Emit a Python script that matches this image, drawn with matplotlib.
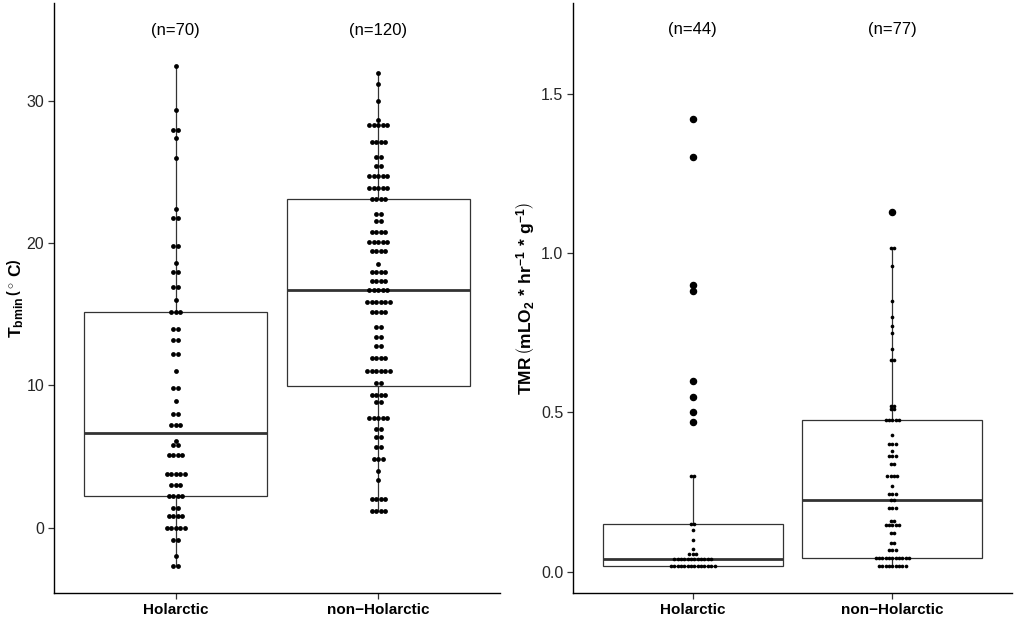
import numpy as np
import matplotlib
matplotlib.use("Agg")
import matplotlib.pyplot as plt

plt.rcParams['font.family'] = ['Liberation Sans', 'DejaVu Sans']
plt.rcParams['mathtext.fontset'] = 'custom'
plt.rcParams['mathtext.rm'] = 'Liberation Sans:bold'
plt.rcParams['mathtext.bf'] = 'Liberation Sans:bold'
plt.rcParams['mathtext.it'] = 'Liberation Sans:bold'
plt.rcParams['mathtext.default'] = 'bf'

# ---------------- data (dot rows: level, count) ----------------
categories = ["Holarctic", "non\u2212Holarctic"]

tb_hol_levels = [32.5, 29.4, 28.0, 27.4, 26.0, 22.4, 21.8, 19.8, 18.6, 18.0, 16.9, 16.0, 15.2,
                 14.0, 13.2, 12.2, 11.0, 9.8, 8.9, 8.0, 7.2, 6.1, 5.8, 5.1, 3.8, 3.0, 2.2,
                 1.4, 0.8, 0.0, -0.85, -2.0, -2.7]
tb_hol_counts = [1, 1, 2, 1, 1, 1, 2, 2, 1, 2, 2, 1, 3,
                 2, 2, 2, 1, 2, 1, 2, 3, 1, 2, 4, 5, 3, 4,
                 2, 4, 5, 2, 1, 2]

tb_non_levels = [32.0, 31.2, 30.0, 28.65, 28.3, 27.15, 26.1, 25.4, 24.75, 23.9, 23.1, 22.05,
                 21.6, 20.8, 20.1, 19.45, 18.55, 18.0, 17.35, 16.7, 15.85, 15.2, 14.1, 13.4,
                 12.75, 11.95, 11.0, 10.2, 9.3, 8.8, 7.7, 6.95, 6.35, 5.65, 4.85, 3.95, 3.35,
                 2.0, 1.2]
tb_non_counts = [1, 1, 1, 1, 5, 4, 2, 2, 5, 5, 4, 2,
                 2, 4, 5, 4, 1, 4, 4, 5, 6, 4, 2, 2,
                 2, 4, 6, 2, 4, 2, 5, 2, 2, 2, 3, 1, 1,
                 4, 4]

tmr_hol_levels = [1.42, 1.30, 0.90, 0.88, 0.60, 0.55, 0.50, 0.47, 0.30, 0.15, 0.13, 0.10,
                  0.071, 0.056, 0.040, 0.019]
tmr_hol_counts = [1, 1, 1, 1, 1, 1, 1, 1, 2, 2, 1, 1,
                  1, 3, 12, 14]

tmr_non_levels = [1.13, 1.015, 0.96, 0.85, 0.80, 0.77, 0.75, 0.70, 0.665, 0.52, 0.51, 0.475,
                  0.43, 0.40, 0.38, 0.365, 0.34, 0.30, 0.27, 0.245, 0.225, 0.20, 0.16, 0.147,
                  0.122, 0.09, 0.068, 0.043, 0.019]
tmr_non_counts = [1, 2, 1, 1, 1, 1, 1, 1, 2, 2, 2, 5,
                  1, 3, 1, 3, 2, 4, 1, 3, 2, 3, 2, 5,
                  2, 2, 3, 11, 9]

left_n_labels = ["(n=70)", "(n=120)"]
right_n_labels = ["(n=44)", "(n=77)"]

tb_hol = np.repeat(tb_hol_levels, tb_hol_counts)
tb_non = np.repeat(tb_non_levels, tb_non_counts)
tmr_hol = np.repeat(tmr_hol_levels, tmr_hol_counts)
tmr_non = np.repeat(tmr_non_levels, tmr_non_counts)

# ---------------- figure ----------------
W, H = 1015, 617
fig = plt.figure(figsize=(W / 100, H / 100), dpi=100)
axL = fig.add_axes([54 / W, 24 / H, 446 / W, 590 / H])
axR = fig.add_axes([573 / W, 24 / H, 439 / W, 590 / H])

BOXC = '#333333'


def dotplot(ax, data, pos, spacing, size):
    vals, cnts = np.unique(data, return_counts=True)
    xs, ys = [], []
    for v, k in zip(vals, cnts):
        for i in range(k):
            xs.append(pos + (i - (k - 1) / 2) * spacing)
            ys.append(v)
    ax.scatter(xs, ys, s=size, color='black', linewidths=0, zorder=4)


def panel(ax, groups, spacing, size, ylim, yticks, yticklabels, nlabels, ny, ylabel, labx):
    ax.boxplot(groups, positions=[1, 2], widths=0.9, showcaps=False, patch_artist=True,
               boxprops=dict(facecolor='white', edgecolor=BOXC, linewidth=0.9),
               medianprops=dict(color=BOXC, linewidth=2.0),
               whiskerprops=dict(color=BOXC, linewidth=0.9),
               flierprops=dict(marker='o', markerfacecolor='black', markeredgecolor='black',
                               markersize=4.4, linestyle='none'),
               zorder=2)
    for g, p in zip(groups, [1, 2]):
        dotplot(ax, g, p, spacing, size)
    for lab, p in zip(nlabels, [1, 2]):
        ax.text(p, ny, lab, ha='center', va='center', fontsize=12, color='black')
    ax.set_xlim(0.4, 2.6)
    ax.set_ylim(*ylim)
    ax.set_xticks([1, 2])
    ax.set_xticklabels(categories, fontsize=11, fontweight='bold', color='black')
    ax.set_yticks(yticks)
    ax.set_yticklabels(yticklabels, fontsize=11.5, color='#262626')
    for s in ['top', 'right']:
        ax.spines[s].set_visible(False)
    for s in ['left', 'bottom']:
        ax.spines[s].set_linewidth(1.0)
        ax.spines[s].set_color('black')
    ax.tick_params(axis='both', length=4, width=0.9, color='#333333', pad=3)
    ax.set_ylabel(ylabel, fontsize=12.5, fontweight='bold')
    ax.yaxis.set_label_coords(labx, 0.5)


panel(axL, [tb_hol, tb_non], 0.0225, 12, (-4.6, 36.9), [0, 10, 20, 30],
      ['0', '10', '20', '30'], left_n_labels, 35,
      r'$T_{bmin}\,\left(^\circ\,C\right)$', (26 - 54) / 446)
panel(axR, [tmr_hol, tmr_non], 0.0168, 7, (-0.066, 1.784), [0.0, 0.5, 1.0, 1.5],
      ['0.0', '0.5', '1.0', '1.5'], right_n_labels, 1.7,
      r'$TMR\,\left(mLO_2\,*\,hr^{-1}\,*\,g^{-1}\right)$', (537 - 573) / 439)

fig.savefig('out.png', dpi=100)
